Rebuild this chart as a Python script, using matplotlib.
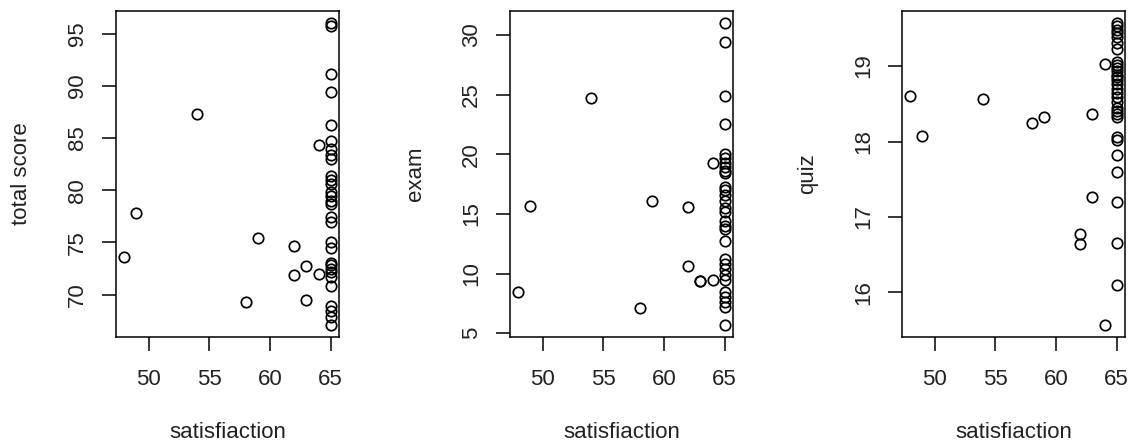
"""
Satisfaction vs. scores - three scatter panels (R base graphics look)
"""

import matplotlib
matplotlib.use('Agg')
import matplotlib.pyplot as plt

plt.rcParams['font.family'] = ['Liberation Sans', 'DejaVu Sans']

# satisfaction (shared x for all three panels)
satisfaction = [48, 49, 54, 58, 59, 62, 62, 63, 63, 64, 64] + [65] * 30

total_score = [73.6, 77.8, 87.3, 69.3, 75.4, 74.7, 71.9, 72.7, 69.5, 84.3, 72.0,
               96.0, 95.7, 91.1, 89.4, 86.2, 84.7, 83.9, 83.4, 83.0, 81.4,
               81.0, 80.6, 79.8, 79.4, 79.0, 78.7, 77.4, 77.0, 75.0, 74.5,
               73.0, 72.5, 72.2, 71.7, 70.8, 68.9, 68.4, 67.9, 67.1, 72.8]

exam = [8.5, 15.7, 24.7, 7.1, 16.1, 15.6, 10.6, 9.4, 9.35, 19.3, 9.45,
        31.0, 29.4, 24.9, 22.5, 20.0, 19.7, 19.3, 18.9, 18.6, 18.4,
        17.3, 17.0, 16.6, 16.1, 15.5, 15.2, 14.4, 14.0, 13.7, 12.75,
        11.2, 10.8, 10.4, 9.9, 9.5, 8.5, 8.0, 7.6, 7.2, 5.7]

quiz = [18.61, 18.08, 18.57, 18.25, 18.33, 16.77, 16.64, 18.37, 17.26, 19.03, 15.57,
        19.57, 19.53, 19.48, 19.44, 19.38, 19.30, 19.22, 19.05, 19.01, 18.97,
        18.93, 18.88, 18.82, 18.76, 18.70, 18.65, 18.59, 18.52, 18.45, 18.40,
        18.36, 18.32, 18.06, 18.02, 17.82, 17.60, 17.20, 16.65, 16.10, 18.85]

x_ticks = [50, 55, 60, 65]
panels = [
    ('total score', total_score, [70, 75, 80, 85, 90, 95]),
    ('exam', exam, [5, 10, 15, 20, 25, 30]),
    ('quiz', quiz, [16, 17, 18, 19]),
]


def r_limits(values):
    """R-style axis range: data range padded 4% each side"""
    lo, hi = min(values), max(values)
    pad = (hi - lo) * 0.04
    return lo - pad, hi + pad


fig = plt.figure(figsize=(11.34, 4.45), dpi=100)

lefts_px = [116, 510, 902]
W, H = 1134, 445
for left_px, (ylabel, values, y_ticks) in zip(lefts_px, panels):
    ax = fig.add_axes([left_px / W, 1 - 337 / H, 223 / W, 326 / H])
    ax.plot(satisfaction, values, linestyle='none', marker='o', markersize=7.5,
            markerfacecolor='none', markeredgecolor='black', markeredgewidth=1.25)

    ax.set_xlim(*r_limits(satisfaction))
    ax.set_ylim(*r_limits(values))
    ax.set_xticks(x_ticks)
    ax.set_yticks(y_ticks)

    for spine in ax.spines.values():
        spine.set_linewidth(1.1)
    ax.tick_params(axis='both', direction='out', length=10, width=1.1,
                   labelsize=16, colors='black', labelcolor='#222222')
    ax.tick_params(axis='x', pad=13)
    ax.tick_params(axis='y', pad=10)
    for lab in ax.get_yticklabels():
        lab.set_rotation(90)
        lab.set_va('center')

    ax.set_xlabel('satisfiaction', fontsize=16, va='baseline', color='#222222')
    ax.xaxis.set_label_coords(0.5, -0.31)
    ax.set_ylabel(ylabel, fontsize=16, va='center', color='#222222')
    ax.yaxis.set_label_coords(-0.425, 0.5)

plt.savefig('out.png', dpi=100)
